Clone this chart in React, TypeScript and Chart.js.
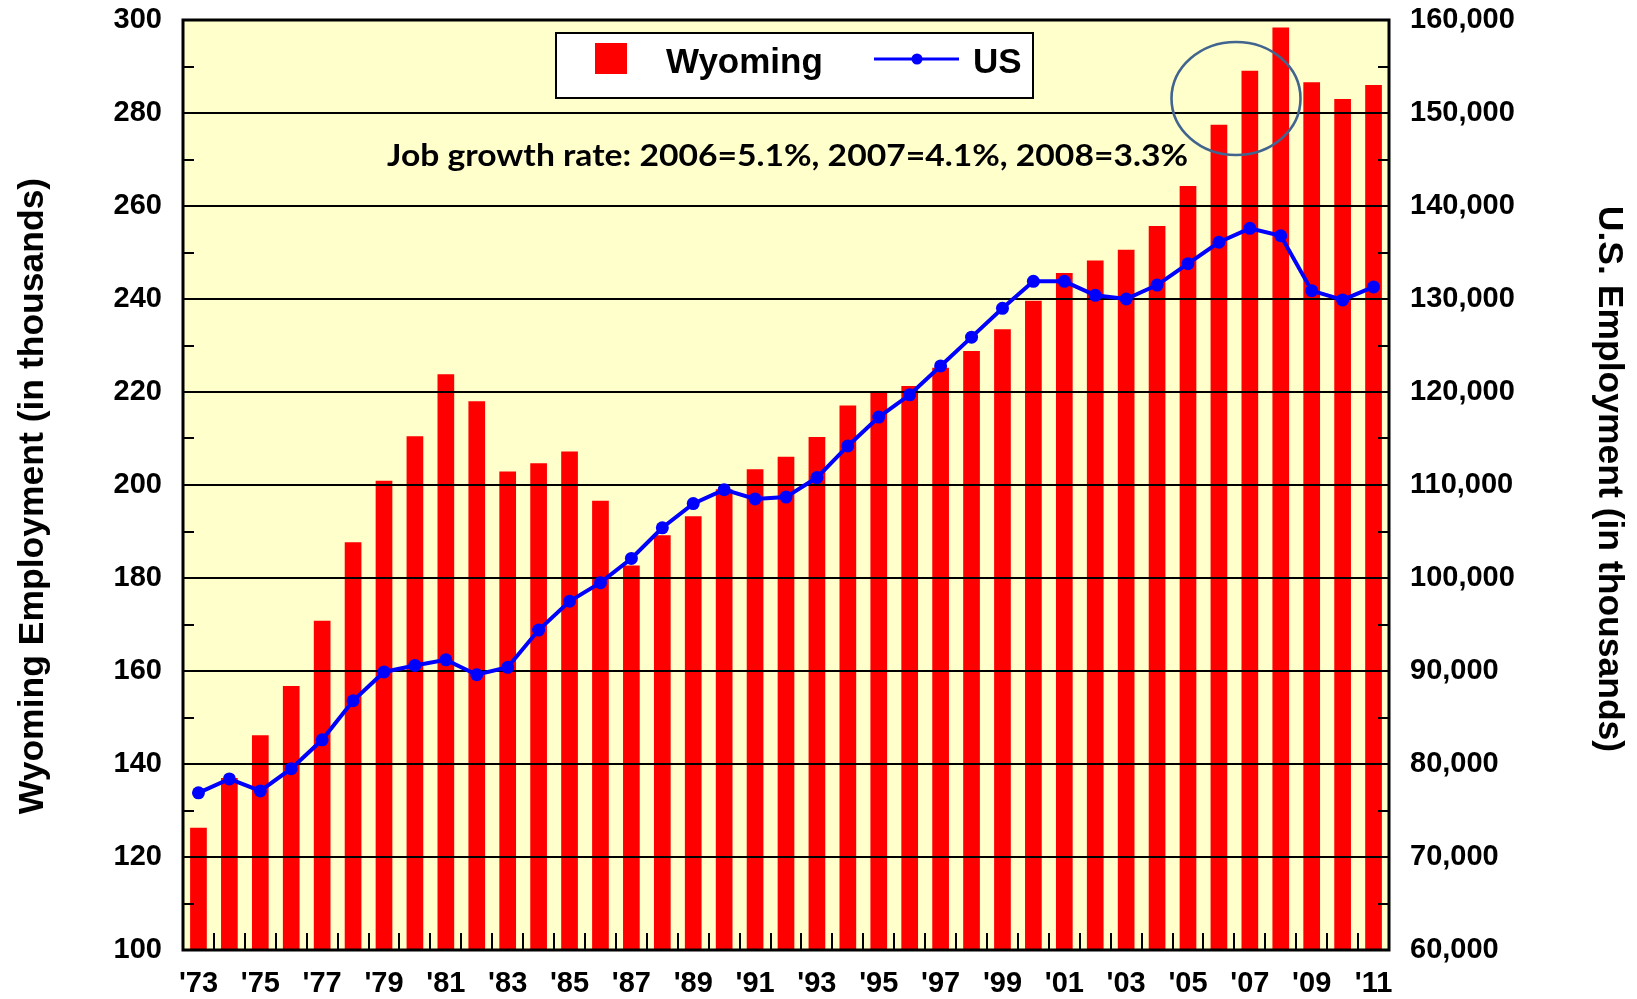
import React, { useEffect, useRef } from "react";
import { Chart, registerables } from "chart.js";

Chart.register(...registerables);

const years = [
  "'73", "'74", "'75", "'76", "'77", "'78", "'79", "'80", "'81", "'82",
  "'83", "'84", "'85", "'86", "'87", "'88", "'89", "'90", "'91", "'92",
  "'93", "'94", "'95", "'96", "'97", "'98", "'99", "'00", "'01", "'02",
  "'03", "'04", "'05", "'06", "'07", "'08", "'09", "'10", "'11",
];

const wyomingEmployment = [
  126.3, 137.0, 146.2, 156.8, 170.8, 187.7, 200.9, 210.5, 223.8, 218.0,
  202.9, 204.7, 207.2, 196.6, 182.7, 189.2, 193.3, 199.1, 203.4, 206.1,
  210.3, 217.1, 219.8, 221.3, 225.2, 228.8, 233.5, 239.6, 245.6, 248.3,
  250.6, 255.7, 264.3, 277.5, 289.1, 298.4, 286.6, 283.0, 286.0,
];

const usEmployment = [
  76900, 78400, 77100, 79500, 82600, 86800, 89900, 90600, 91200, 89600,
  90400, 94400, 97500, 99500, 102100, 105400, 108000, 109500, 108500, 108700,
  110800, 114200, 117300, 119700, 122800, 125900, 129000, 131900, 131900, 130400,
  130000, 131500, 133800, 136100, 137600, 136800, 130900, 129900, 131300,
];

const leftAxis = { min: 100, max: 300, step: 20 };
const rightAxis = { min: 60000, max: 160000, step: 10000 };

const seriesNames = ["Wyoming", "US"];
const leftTitle = "Wyoming Employment (in thousands)";
const rightTitle = "U.S. Employment (in thousands)";
const annotationText = "Job growth rate: 2006=5.1%, 2007=4.1%, 2008=3.3%";

const FONT = "'Liberation Sans', Arial, sans-serif";
const RED = "#FF0000";
const BLUE = "#0000FF";

const decorPlugin = {
  id: "decor",
  beforeDraw(chart: any) {
    const { ctx, chartArea: a } = chart;
    ctx.save();
    ctx.fillStyle = "#FFFFFF";
    ctx.fillRect(0, 0, chart.width, chart.height);
    ctx.fillStyle = "#FFFFCC";
    ctx.fillRect(a.left, a.top, a.right - a.left, a.bottom - a.top);
    ctx.restore();
  },
  afterDatasetDraw(chart: any, args: any) {
    if (args.index !== 0) return;
    const { ctx, chartArea: a, scales } = chart;
    const y = scales.y;
    const x = scales.x;
    ctx.save();
    ctx.strokeStyle = "#000";
    ctx.lineWidth = 2;
    y.ticks.forEach((t: any) => {
      const py = Math.round(y.getPixelForValue(t.value));
      ctx.beginPath();
      ctx.moveTo(a.left, py);
      ctx.lineTo(a.right, py);
      ctx.stroke();
    });
    for (let v = leftAxis.min + leftAxis.step / 2; v < leftAxis.max; v += leftAxis.step) {
      const py = Math.round(y.getPixelForValue(v));
      ctx.beginPath();
      ctx.moveTo(a.left, py);
      ctx.lineTo(a.left + 11, py);
      ctx.moveTo(a.right, py);
      ctx.lineTo(a.right - 11, py);
      ctx.stroke();
    }
    const n = years.length;
    for (let i = 1; i < n; i++) {
      const px = Math.round((x.getPixelForValue(i - 1) + x.getPixelForValue(i)) / 2);
      ctx.beginPath();
      ctx.moveTo(px, a.bottom);
      ctx.lineTo(px, a.bottom - 17);
      ctx.stroke();
    }
    ctx.restore();
  },
  afterDraw(chart: any) {
    const { ctx, chartArea: a } = chart;
    ctx.save();
    ctx.strokeStyle = "#000";
    ctx.lineWidth = 3;
    ctx.strokeRect(a.left, a.top, a.right - a.left, a.bottom - a.top);

    ctx.fillStyle = "#000";
    ctx.font = `bold 35.5px ${FONT}`;
    ctx.textAlign = "center";
    ctx.textBaseline = "alphabetic";
    ctx.save();
    ctx.translate(43, 496);
    ctx.rotate(-Math.PI / 2);
    ctx.fillText(leftTitle, 0, 0);
    ctx.restore();
    ctx.save();
    ctx.translate(1599, 479);
    ctx.rotate(Math.PI / 2);
    ctx.fillText(rightTitle, 0, 0);
    ctx.restore();

    ctx.font = `bold 30px Lato, 'Open Sans', sans-serif`;
    const w = ctx.measureText(annotationText).width;
    const target = 801;
    ctx.save();
    ctx.translate(787.5, 166);
    ctx.scale(target / w, 1);
    ctx.textAlign = "center";
    ctx.fillText(annotationText, 0, 0);
    ctx.restore();

    ctx.beginPath();
    ctx.ellipse(1236, 98.5, 64.5, 56.5, 0, 0, Math.PI * 2);
    ctx.strokeStyle = "#41658F";
    ctx.lineWidth = 2.6;
    ctx.stroke();

    ctx.fillStyle = "#FFFFFF";
    ctx.fillRect(556, 33, 477, 65);
    ctx.strokeStyle = "#000";
    ctx.lineWidth = 2;
    ctx.strokeRect(556, 33, 477, 65);
    ctx.fillStyle = RED;
    ctx.fillRect(595, 43, 32, 31);
    ctx.fillStyle = "#000";
    ctx.font = `bold 35px ${FONT}`;
    ctx.textAlign = "left";
    ctx.textBaseline = "alphabetic";
    ctx.fillText(seriesNames[0], 666, 73);
    ctx.strokeStyle = BLUE;
    ctx.lineWidth = 3;
    ctx.beginPath();
    ctx.moveTo(874, 59);
    ctx.lineTo(959, 59);
    ctx.stroke();
    ctx.fillStyle = BLUE;
    ctx.beginPath();
    ctx.arc(917, 59, 5.5, 0, Math.PI * 2);
    ctx.fill();
    ctx.fillStyle = "#000";
    ctx.fillText(seriesNames[1], 973, 73);
    ctx.restore();
  },
};

export default function App() {
  const canvasRef = useRef<HTMLCanvasElement>(null);

  useEffect(() => {
    const canvas = canvasRef.current;
    if (!canvas) return;
    const tickFont = { family: FONT, size: 29, weight: "bold" as const };
    const fitVertical = (width: number) => (s: any) => {
      s.width = width;
      s.paddingTop = 0;
      s.paddingBottom = 0;
    };
    const chart = new Chart(canvas, {
      type: "bar",
      data: {
        labels: years,
        datasets: [
          {
            type: "bar",
            label: seriesNames[0],
            data: wyomingEmployment,
            backgroundColor: RED,
            borderWidth: 0,
            barPercentage: 0.54,
            categoryPercentage: 1.0,
            yAxisID: "y",
            order: 1,
          },
          {
            type: "line",
            label: seriesNames[1],
            data: usEmployment,
            borderColor: BLUE,
            backgroundColor: BLUE,
            borderWidth: 4,
            pointRadius: 6.5,
            pointBackgroundColor: BLUE,
            pointBorderWidth: 0,
            tension: 0,
            yAxisID: "y2",
            order: 0,
          } as any,
        ],
      },
      options: {
        responsive: false,
        animation: false,
        devicePixelRatio: 1,
        locale: "en-US",
        layout: { padding: { top: 20, left: 0, right: 0, bottom: 0 } },
        plugins: {
          legend: { display: false },
          tooltip: { enabled: false },
        },
        scales: {
          x: {
            grid: { display: false, drawTicks: false },
            border: { display: false },
            ticks: {
              autoSkip: false,
              maxRotation: 0,
              minRotation: 0,
              padding: 17,
              color: "#000",
              font: tickFont,
              callback: (_v: any, i: number) => (i % 2 === 0 ? years[i] : ""),
            },
            afterFit: (s: any) => {
              s.height = 49;
              s.paddingLeft = 0;
              s.paddingRight = 0;
            },
          },
          y: {
            position: "left",
            min: leftAxis.min,
            max: leftAxis.max,
            grid: { display: false, drawTicks: false },
            border: { display: false },
            ticks: {
              stepSize: leftAxis.step,
              padding: 21,
              color: "#000",
              font: tickFont,
            },
            afterFit: fitVertical(183),
          },
          y2: {
            position: "right",
            min: rightAxis.min,
            max: rightAxis.max,
            grid: { display: false, drawTicks: false },
            border: { display: false },
            ticks: {
              stepSize: rightAxis.step,
              padding: 21,
              color: "#000",
              font: tickFont,
              callback: (v: any) => Number(v).toLocaleString("en-US"),
            },
            afterFit: fitVertical(248),
          },
        },
      },
      plugins: [decorPlugin],
    });
    return () => chart.destroy();
  }, []);

  return (
    <div
      style={{
        position: "fixed",
        left: 0,
        top: 0,
        width: 1637,
        height: 999,
        background: "#fff",
      }}
    >
      <canvas
        ref={canvasRef}
        width={1637}
        height={999}
        style={{ display: "block", width: 1637, height: 999 }}
      />
    </div>
  );
}
